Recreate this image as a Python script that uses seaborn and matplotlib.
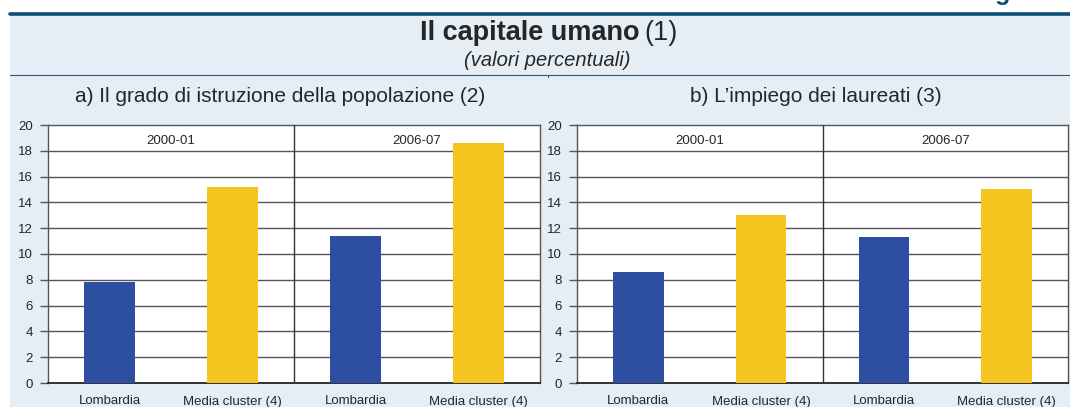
import pandas as pd
import numpy as np
import seaborn as sns
import matplotlib.pyplot as plt
from matplotlib.patches import Rectangle
from matplotlib.lines import Line2D

# dati
periodi = ['2000-01', '2006-07']
aree = ['Lombardia', 'Media cluster (4)']
istruzione = [7.8, 15.2, 11.4, 18.6]   # a) grado di istruzione
impiego = [8.6, 13.05, 11.35, 15.05]   # b) impiego dei laureati
titoli = ['a) Il grado di istruzione della popolazione (2)',
          'b) L\u2019impiego dei laureati (3)']
yticks = list(range(0, 21, 2))

colori = {'Lombardia': '#2E4FA1', 'Media cluster (4)': '#F5C51F'}
bg = '#E6EEF5'
grid_col = '#555555'

sns.set_style('white')
plt.rcParams['font.family'] = ['Liberation Sans', 'DejaVu Sans']

fig = plt.figure(figsize=(10.7, 4.07), dpi=100)
W, H = 1070, 407


def fx(px):
    return px / W


def fy(py):
    return 1 - py / H


# sfondo e intestazione
fig.add_artist(Rectangle((fx(10), 0), 1 - fx(10), fy(14), transform=fig.transFigure,
                         facecolor=bg, edgecolor='none', zorder=-5))
fig.add_artist(Line2D([fx(10), 1], [fy(13.5), fy(13.5)], color='#0D4C74', lw=2.6))
fig.add_artist(Line2D([fx(10), 1], [fy(75), fy(75)], color='#2A5A82', lw=0.8))
fig.add_artist(Line2D([fx(548), fx(548)], [fy(75), fy(77)], color='#2A5A82', lw=0.8))
fig.text(fx(1050), fy(0), 'Figura', ha='right', va='baseline', fontsize=18,
         fontweight='bold', color='#0D4C74')

fig.text(fx(640), fy(33), 'Il capitale umano', ha='right', va='center', fontsize=19.5,
         fontweight='bold')
fig.text(fx(644), fy(33), '(1)', ha='left', va='center', fontsize=19.5)
fig.text(fx(547), fy(60), '(valori percentuali)', ha='center', va='center', fontsize=14.5,
         style='italic')

assi = [fig.add_axes([fx(48), fy(383), fx(540 - 48), 258 / H]),
        fig.add_axes([fx(577), fy(383), fx(1068 - 577), 258 / H])]
centri_titoli = [280, 816]

for ax, valori, titolo, cx in zip(assi, [istruzione, impiego], titoli, centri_titoli):
    df = pd.DataFrame({
        'chiave': [p + ' ' + a for p in periodi for a in aree],
        'area': [a for p in periodi for a in aree],
        'valore': valori,
    })
    sns.barplot(data=df, x='chiave', y='valore', hue='area', palette=colori, saturation=1,
                width=0.41, dodge=False, legend=False, ax=ax, zorder=3, linewidth=0)
    ax.set_facecolor('white')
    ax.set_xlim(-0.5, 3.5)
    ax.set_ylim(0, 20)
    ax.set_yticks(yticks)
    ax.set_xticks(range(4))
    ax.set_xticklabels([a for p in periodi for a in aree], fontsize=9.5)
    ax.tick_params(axis='x', length=0, pad=9)
    ax.tick_params(axis='y', length=6, width=1, color=grid_col, labelsize=9.5, pad=5, left=True)
    ax.set_xlabel('')
    ax.set_ylabel('')
    for yv in yticks[1:-1]:
        ax.axhline(yv, color=grid_col, lw=1, zorder=1)
    ax.axvline(1.5, color='#333333', lw=1, zorder=4)
    for s in ['top', 'left', 'right']:
        ax.spines[s].set_visible(True)
        ax.spines[s].set_color(grid_col)
        ax.spines[s].set_linewidth(1)
    ax.spines['bottom'].set_color('#222222')
    ax.spines['bottom'].set_linewidth(1.3)
    for i, p in enumerate(periodi):
        ax.text(0.5 + 2 * i, 18.75, p, ha='center', va='center', fontsize=9.5, zorder=5,
                bbox=dict(facecolor='white', edgecolor='none', pad=1))
    fig.text(fx(cx), fy(97), titolo, ha='center', va='center', fontsize=15)

fig.savefig('out.png', dpi=100, facecolor='white')
